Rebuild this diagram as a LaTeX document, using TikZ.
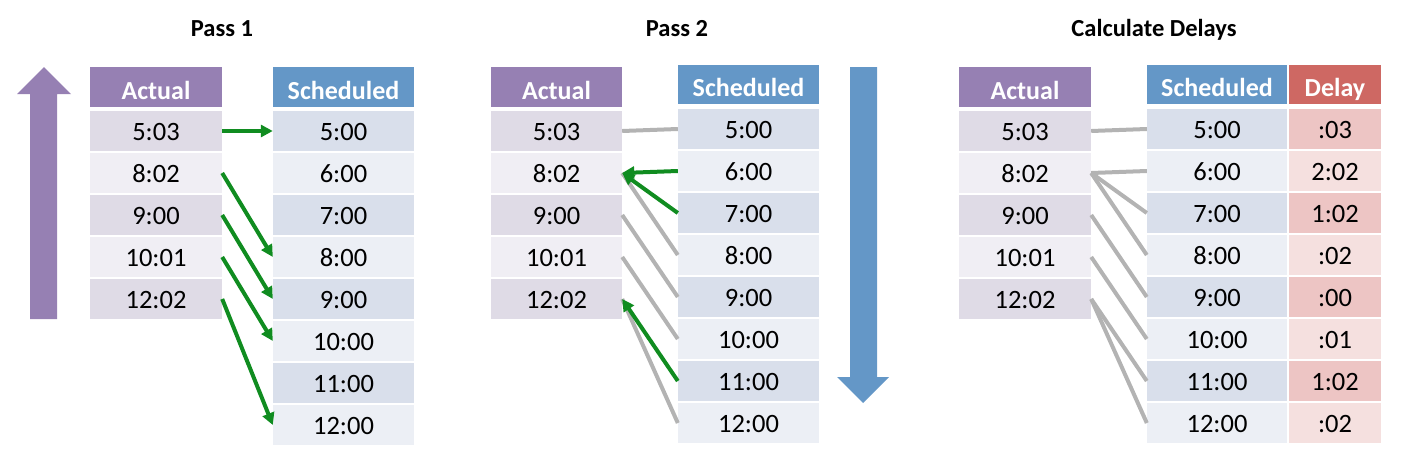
\documentclass[tikz,border=0pt]{standalone}
\usepackage{fontspec}
\setmainfont{Carlito}
\usetikzlibrary{arrows.meta}
\definecolor{purphdr}{HTML}{9680B3}
\definecolor{bluehdr}{HTML}{6497C7}
\definecolor{redhdr}{HTML}{CE6863}
\definecolor{actdark}{HTML}{DFDBE6}
\definecolor{actlight}{HTML}{F0EEF4}
\definecolor{schdark}{HTML}{D9DFEB}
\definecolor{schlight}{HTML}{ECEFF5}
\definecolor{deldark}{HTML}{EDC5C4}
\definecolor{dellight}{HTML}{F5E0DF}
\definecolor{arrgreen}{HTML}{108C20}
\definecolor{linegray}{HTML}{B3B3B3}
\begin{document}
\begin{tikzpicture}[x=1pt,y=-1pt,
  cell/.style={rectangle, inner sep=0pt, minimum height=40pt, text=black,
    font=\fontsize{26.5}{30}\selectfont, text height=18.5pt, text depth=0pt},
  hdr/.style={rectangle, inner sep=0pt, minimum height=40pt, text=white,
    font=\bfseries\fontsize{26}{30}\selectfont, text height=24pt, text depth=0pt},
  ttl/.style={inner sep=0pt, font=\bfseries\fontsize{24.5}{28}\selectfont,
    text height=18pt, text depth=0pt},
  garrow/.style={draw=arrgreen, line width=4pt, -{Triangle[length=12pt,width=12pt]}},
  gline/.style={draw=linegray, line width=4pt}]
\useasboundingbox (0,0) rectangle (1410,466);

% titles
\node[ttl] (t1) at (222,27) {Pass 1};
\node[ttl] (t2) at (677,27) {Pass 2};
\node[ttl] (t3) at (1154,27) {Calculate Delays};

% big arrows
\fill[purphdr] (30,319) -- (30,94) -- (17,94) -- (44,67) -- (71,94) -- (57,94) -- (57,319) -- cycle;
\fill[bluehdr] (850,67) -- (850,377) -- (837,377) -- (863,403) -- (889,377) -- (877,377) -- (877,67) -- cycle;

% ---------- Pass 1 ----------
\node[hdr, fill=purphdr, minimum width=132pt] (p1ah) at (156,87) {Actual};
\foreach \t/\c [count=\i] in {5:03/actdark,8:02/actlight,9:00/actdark,10:01/actlight,12:02/actdark}
  \node[cell, fill=\c, minimum width=132pt] (p1a\i) at (156,{89+42*\i}) {\t};
\node[hdr, fill=bluehdr, minimum width=141pt] (p1sh) at (343.5,87) {Scheduled};
\foreach \t/\c [count=\i] in {5:00/schdark,6:00/schlight,7:00/schdark,8:00/schlight,9:00/schdark,10:00/schlight,11:00/schdark,12:00/schlight}
  \node[cell, fill=\c, minimum width=141pt] (p1s\i) at (343.5,{89+42*\i}) {\t};
\draw[garrow] (p1a1.east) -- (p1s1.west);
\draw[garrow] (p1a2.east) -- (p1s4.west);
\draw[garrow] (p1a3.east) -- (p1s5.west);
\draw[garrow] (p1a4.east) -- (p1s6.west);
\draw[garrow] (p1a5.east) -- (p1s8.west);

% ---------- Pass 2 ----------
\node[hdr, fill=purphdr, minimum width=131pt] (p2ah) at (556.5,87) {Actual};
\foreach \t/\c [count=\i] in {5:03/actdark,8:02/actlight,9:00/actdark,10:01/actlight,12:02/actdark}
  \node[cell, fill=\c, minimum width=131pt] (p2a\i) at (556.5,{89+42*\i}) {\t};
\node[hdr, fill=bluehdr, minimum width=141pt, minimum height=39pt] (p2sh) at (748.5,84.5) {Scheduled};
\foreach \t/\c [count=\i] in {5:00/schdark,6:00/schlight,7:00/schdark,8:00/schlight,9:00/schdark,10:00/schlight,11:00/schdark,12:00/schlight}
  \node[cell, fill=\c, minimum width=141pt] (p2s\i) at (748.5,{87+42*\i}) {\t};
\draw[gline] (p2a1.east) -- (p2s1.west);
\draw[gline] (p2a2.east) -- (p2s4.west);
\draw[gline] (p2a3.east) -- (p2s5.west);
\draw[gline] (p2a4.east) -- (p2s6.west);
\draw[gline] (p2a5.east) -- (p2s8.west);
\draw[garrow] (p2s2.west) -- (p2a2.east);
\draw[garrow] (p2s3.west) -- (p2a2.east);
\draw[garrow] (p2s7.west) -- (p2a5.east);

% ---------- Calculate Delays ----------
\node[hdr, fill=purphdr, minimum width=132pt] (cah) at (1025,87) {Actual};
\foreach \t/\c [count=\i] in {5:03/actdark,8:02/actlight,9:00/actdark,10:01/actlight,12:02/actdark}
  \node[cell, fill=\c, minimum width=132pt] (ca\i) at (1025,{89+42*\i}) {\t};
\node[hdr, fill=bluehdr, minimum width=140pt, minimum height=39pt] (csh) at (1217,84.5) {Scheduled};
\foreach \t/\c [count=\i] in {5:00/schdark,6:00/schlight,7:00/schdark,8:00/schlight,9:00/schdark,10:00/schlight,11:00/schdark,12:00/schlight}
  \node[cell, fill=\c, minimum width=140pt] (cs\i) at (1217,{87+42*\i}) {\t};
\node[hdr, fill=redhdr, minimum width=92pt, minimum height=39pt] (cdh) at (1335,84.5) {Delay};
\foreach \t/\c [count=\i] in {:03/deldark,2:02/dellight,1:02/deldark,:02/dellight,:00/deldark,:01/dellight,1:02/deldark,:02/dellight}
  \node[cell, fill=\c, minimum width=92pt] (cd\i) at (1335,{87+42*\i}) {\t};
\draw[gline] (ca1.east) -- (cs1.west);
\draw[gline] (ca2.east) -- (cs2.west);
\draw[gline] (ca2.east) -- (cs3.west);
\draw[gline] (ca2.east) -- (cs4.west);
\draw[gline] (ca3.east) -- (cs5.west);
\draw[gline] (ca4.east) -- (cs6.west);
\draw[gline] (ca5.east) -- (cs7.west);
\draw[gline] (ca5.east) -- (cs8.west);
\end{tikzpicture}
\end{document}
